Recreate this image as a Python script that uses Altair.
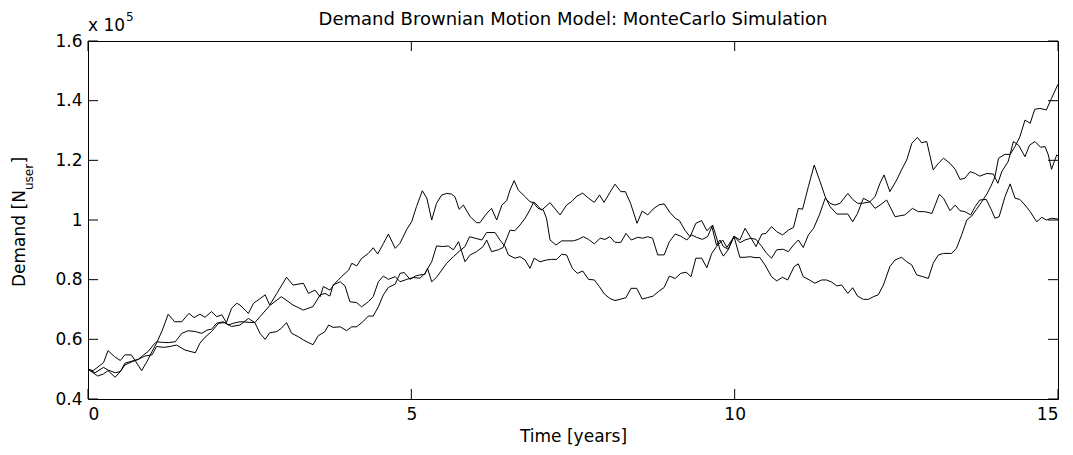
import altair as alt
import pandas as pd

# Demand in units of 1e5 users, time in years
t_a = [0.00, 0.08, 0.24, 0.31, 0.41, 0.50, 0.57, 0.67, 0.74, 0.83, 0.91, 0.99, 1.06, 1.15, 1.24, 1.34, 1.45, 1.56, 1.64, 1.73,
       1.81, 1.91, 1.99, 2.07, 2.14, 2.22, 2.30, 2.35, 2.43, 2.48, 2.56, 2.74, 2.81, 2.92, 3.07, 3.17, 3.33, 3.41, 3.51, 3.59,
       3.64, 3.74, 3.82, 3.92, 4.03, 4.08, 4.155, 4.23, 4.335, 4.41, 4.48, 4.57, 4.645, 4.75, 4.825, 4.93, 5.005, 5.08, 5.17, 5.24,
       5.315, 5.39, 5.47, 5.55, 5.62, 5.675, 5.74, 5.805, 5.91, 6.01, 6.06, 6.165, 6.24, 6.32, 6.40, 6.475, 6.525, 6.59, 6.655, 6.76,
       6.835, 6.91, 7.015, 7.145, 7.30, 7.40, 7.48, 7.56, 7.65, 7.74, 7.83, 7.91, 7.98, 8.07, 8.15, 8.24, 8.31, 8.39, 8.49, 8.57,
       8.655, 8.74, 8.83, 8.91, 9.00, 9.08, 9.145, 9.23, 9.31, 9.40, 9.49, 9.57, 9.645, 9.72, 9.773, 9.825, 9.90, 9.99, 10.08, 10.16,
       10.24, 10.33, 10.42, 10.485, 10.57, 10.65, 10.74, 10.83, 10.91, 10.985, 11.05, 11.14, 11.23, 11.32, 11.40, 11.475, 11.58, 11.67, 11.75, 11.825,
       11.90, 11.99, 12.09, 12.17, 12.247, 12.31, 12.40, 12.505, 12.58, 12.66, 12.74, 12.825, 12.89, 12.97, 13.07, 13.15, 13.23, 13.33, 13.41, 13.485,
       13.56, 13.64, 13.72, 13.79, 13.90, 14.00, 14.07, 14.13, 14.23, 14.31, 14.39, 14.49, 14.56, 14.644, 14.73, 14.80, 14.85, 14.90, 14.98, 15.00]
v_a = [0.500, 0.495, 0.522, 0.562, 0.542, 0.529, 0.548, 0.548, 0.525, 0.495, 0.525, 0.559, 0.587, 0.631, 0.684, 0.659, 0.659, 0.687, 0.673, 0.684,
       0.674, 0.693, 0.676, 0.682, 0.656, 0.704, 0.721, 0.715, 0.698, 0.687, 0.721, 0.749, 0.715, 0.754, 0.808, 0.782, 0.788, 0.754, 0.765, 0.743,
       0.777, 0.765, 0.788, 0.810, 0.832, 0.855, 0.846, 0.871, 0.888, 0.907, 0.886, 0.922, 0.953, 0.905, 0.922, 0.969, 0.994, 1.045, 1.098, 1.073,
       1.000, 1.056, 1.084, 1.089, 1.087, 1.078, 1.036, 1.050, 1.011, 0.991, 0.991, 1.022, 1.039, 1.000, 1.050, 1.065, 1.100, 1.132, 1.100, 1.078,
       1.061, 1.058, 1.033, 1.058, 1.017, 1.050, 1.062, 1.080, 1.090, 1.073, 1.059, 1.084, 1.059, 1.092, 1.120, 1.095, 1.095, 1.056, 0.989, 1.030,
       1.017, 1.037, 1.051, 1.054, 1.025, 1.006, 0.998, 0.966, 0.944, 0.989, 0.998, 0.964, 0.980, 0.915, 0.933, 0.911, 0.902, 0.946, 0.933, 0.972,
       0.944, 0.911, 0.953, 0.955, 0.978, 0.961, 0.950, 0.966, 0.975, 1.039, 1.036, 1.112, 1.184, 1.129, 1.078, 1.045, 1.020, 1.020, 1.020, 0.994,
       1.022, 1.073, 1.061, 1.078, 1.123, 1.151, 1.095, 1.134, 1.168, 1.201, 1.257, 1.277, 1.259, 1.263, 1.168, 1.190, 1.207, 1.190, 1.170, 1.136,
       1.140, 1.162, 1.156, 1.147, 1.156, 1.154, 1.123, 1.162, 1.196, 1.263, 1.251, 1.212, 1.251, 1.263, 1.244, 1.246, 1.218, 1.170, 1.218, 1.215]

t_b = [0.00, 0.15, 0.24, 0.31, 0.42, 0.50, 0.57, 0.68, 0.78, 0.86, 0.93, 1.01, 1.06, 1.14, 1.24, 1.35, 1.45, 1.55, 1.66, 1.76,
       1.84, 1.91, 1.99, 2.09, 2.17, 2.25, 2.35, 2.58, 2.66, 2.81, 2.99, 3.17, 3.33, 3.48, 3.59, 3.665, 3.74, 3.79, 3.90, 3.975,
       4.05, 4.155, 4.23, 4.335, 4.41, 4.49, 4.567, 4.645, 4.75, 4.825, 4.93, 5.03, 5.134, 5.21, 5.315, 5.39, 5.485, 5.57, 5.65, 5.73,
       5.83, 5.91, 6.01, 6.11, 6.165, 6.24, 6.345, 6.42, 6.526, 6.60, 6.68, 6.76, 6.835, 6.886, 6.96, 7.04, 7.09, 7.145, 7.237, 7.325,
       7.40, 7.505, 7.58, 7.66, 7.74, 7.83, 7.92, 7.995, 8.07, 8.15, 8.24, 8.32, 8.40, 8.50, 8.58, 8.655, 8.73, 8.81, 8.91, 8.99,
       9.08, 9.165, 9.26, 9.335, 9.41, 9.50, 9.58, 9.66, 9.73, 9.773, 9.825, 9.90, 9.99, 10.08, 10.16, 10.247, 10.33, 10.42, 10.495, 10.57,
       10.65, 10.75, 10.83, 10.91, 10.985, 11.06, 11.14, 11.22, 11.31, 11.40, 11.475, 11.55, 11.63, 11.75, 11.825, 11.90, 11.98, 12.09, 12.17, 12.247,
       12.35, 12.48, 12.63, 12.75, 12.84, 12.94, 13.05, 13.165, 13.23, 13.33, 13.41, 13.485, 13.56, 13.65, 13.72, 13.79, 13.89, 13.97, 14.025, 14.09,
       14.18, 14.26, 14.335, 14.41, 14.49, 14.57, 14.67, 14.75, 14.82, 14.90, 15.00]
v_b = [0.500, 0.477, 0.484, 0.495, 0.473, 0.492, 0.520, 0.527, 0.533, 0.548, 0.559, 0.581, 0.592, 0.590, 0.589, 0.592, 0.620, 0.629, 0.626, 0.620,
       0.631, 0.634, 0.654, 0.659, 0.648, 0.654, 0.659, 0.656, 0.676, 0.713, 0.743, 0.715, 0.698, 0.710, 0.749, 0.754, 0.745, 0.782, 0.793, 0.779,
       0.726, 0.723, 0.709, 0.726, 0.743, 0.793, 0.812, 0.801, 0.810, 0.793, 0.801, 0.807, 0.805, 0.821, 0.860, 0.913, 0.911, 0.913, 0.900, 0.927,
       0.860, 0.883, 0.894, 0.911, 0.933, 0.894, 0.900, 0.908, 0.966, 0.964, 0.983, 1.006, 1.034, 1.058, 1.039, 1.034, 1.006, 0.933, 0.916, 0.930,
       0.930, 0.930, 0.935, 0.944, 0.935, 0.920, 0.939, 0.935, 0.944, 0.925, 0.925, 0.955, 0.933, 0.942, 0.939, 0.944, 0.939, 0.883, 0.883, 0.927,
       0.953, 0.946, 0.933, 0.950, 0.942, 0.935, 0.944, 0.983, 0.933, 0.900, 0.879, 0.900, 0.946, 0.924, 0.933, 0.939, 0.935, 0.911, 0.888, 0.872,
       0.900, 0.902, 0.894, 0.916, 0.933, 0.908, 0.950, 0.972, 1.017, 1.073, 1.056, 1.050, 1.056, 1.089, 1.069, 1.056, 1.056, 1.061, 1.039, 1.050,
       1.067, 1.011, 1.017, 1.039, 1.028, 1.028, 1.022, 1.086, 1.073, 1.031, 1.050, 1.031, 1.028, 1.017, 1.045, 1.067, 1.069, 1.034, 1.006, 1.011,
       1.078, 1.121, 1.073, 1.069, 1.050, 1.028, 0.994, 1.009, 1.000, 1.006, 1.003]

t_c = [0.00, 0.11, 0.24, 0.31, 0.42, 0.50, 0.57, 0.68, 0.78, 0.88, 0.99, 1.06, 1.17, 1.27, 1.37, 1.50, 1.66, 1.73, 1.81, 1.91,
       2.02, 2.12, 2.22, 2.35, 2.48, 2.58, 2.66, 2.74, 2.81, 2.92, 2.99, 3.07, 3.15, 3.25, 3.33, 3.42, 3.48, 3.56, 3.665, 3.72,
       3.79, 3.90, 4.00, 4.077, 4.155, 4.26, 4.335, 4.41, 4.49, 4.567, 4.645, 4.75, 4.825, 4.89, 4.98, 5.06, 5.134, 5.21, 5.25, 5.315,
       5.39, 5.47, 5.547, 5.65, 5.75, 5.83, 5.90, 5.985, 6.09, 6.165, 6.294, 6.37, 6.45, 6.50, 6.60, 6.68, 6.76, 6.835, 6.90, 6.99,
       7.09, 7.17, 7.25, 7.325, 7.40, 7.49, 7.567, 7.65, 7.74, 7.83, 7.907, 7.985, 8.07, 8.15, 8.227, 8.32, 8.397, 8.485, 8.57, 8.655,
       8.74, 8.82, 8.91, 8.99, 9.08, 9.165, 9.25, 9.325, 9.40, 9.49, 9.57, 9.645, 9.72, 9.815, 9.88, 9.99, 10.08, 10.16, 10.24, 10.315,
       10.39, 10.47, 10.57, 10.65, 10.74, 10.82, 10.92, 10.985, 11.06, 11.155, 11.24, 11.345, 11.42, 11.50, 11.58, 11.655, 11.75, 11.825, 11.90, 11.99,
       12.07, 12.145, 12.22, 12.30, 12.40, 12.48, 12.58, 12.66, 12.74, 12.815, 12.91, 12.995, 13.07, 13.15, 13.23, 13.355, 13.43, 13.51, 13.59, 13.665,
       13.74, 13.82, 13.90, 13.97, 14.025, 14.08, 14.18, 14.26, 14.335, 14.41, 14.49, 14.57, 14.64, 14.72, 14.82, 14.90, 15.00]
v_c = [0.500, 0.488, 0.506, 0.497, 0.488, 0.492, 0.514, 0.525, 0.533, 0.544, 0.548, 0.576, 0.573, 0.576, 0.581, 0.564, 0.555, 0.587, 0.607, 0.626,
       0.654, 0.656, 0.643, 0.648, 0.670, 0.656, 0.620, 0.600, 0.622, 0.626, 0.637, 0.656, 0.620, 0.609, 0.598, 0.588, 0.582, 0.612, 0.626, 0.648,
       0.640, 0.642, 0.629, 0.642, 0.642, 0.661, 0.678, 0.678, 0.709, 0.749, 0.774, 0.785, 0.821, 0.824, 0.801, 0.812, 0.816, 0.818, 0.838, 0.793,
       0.808, 0.832, 0.855, 0.877, 0.897, 0.911, 0.944, 0.939, 0.933, 0.958, 0.958, 0.933, 0.911, 0.883, 0.872, 0.877, 0.866, 0.838, 0.872, 0.860,
       0.866, 0.868, 0.868, 0.885, 0.883, 0.838, 0.821, 0.829, 0.801, 0.799, 0.777, 0.752, 0.737, 0.730, 0.734, 0.740, 0.771, 0.771, 0.735, 0.740,
       0.745, 0.760, 0.774, 0.812, 0.804, 0.821, 0.825, 0.810, 0.872, 0.872, 0.840, 0.888, 0.911, 0.933, 0.908, 0.944, 0.875, 0.875, 0.877, 0.874,
       0.874, 0.849, 0.810, 0.796, 0.808, 0.799, 0.844, 0.853, 0.810, 0.799, 0.788, 0.799, 0.799, 0.792, 0.779, 0.782, 0.754, 0.773, 0.745, 0.734,
       0.734, 0.743, 0.749, 0.782, 0.844, 0.866, 0.875, 0.860, 0.849, 0.816, 0.810, 0.804, 0.855, 0.883, 0.888, 0.888, 0.905, 0.950, 1.000, 1.013,
       1.036, 1.061, 1.087, 1.117, 1.145, 1.207, 1.220, 1.220, 1.246, 1.279, 1.335, 1.324, 1.371, 1.374, 1.369, 1.408, 1.455]

x_ticks = [0, 5, 10, 15]
y_ticks = [0.4, 0.6, 0.8, 1.0, 1.2, 1.4, 1.6]

title_text = "Demand Brownian Motion Model: MonteCarlo Simulation"
x_title = "Time [years]"
y_title_parts = ["Demand [N", "user", "]"]
exp_parts = ["x 10", "5"]

FONT = "DejaVu Sans"
W, H = 970, 358

df = pd.DataFrame({
    "t": t_a + t_b + t_c,
    "v": v_a + v_b + v_c,
    "run": ["1"] * len(t_a) + ["2"] * len(t_b) + ["3"] * len(t_c),
})

xs = alt.Scale(domain=[0, 15], nice=False, zero=False)
ys = alt.Scale(domain=[0.4, 1.6], nice=False, zero=False)
x_axis = alt.Axis(values=x_ticks, title=x_title, labelPadding=7, titlePadding=6, format="~g")
y_axis = alt.Axis(values=y_ticks, title=None, labelPadding=6, format="~g")

lines = alt.Chart(df).mark_line(color="black", strokeWidth=1).encode(
    x=alt.X("t:Q", scale=xs, axis=x_axis),
    y=alt.Y("v:Q", scale=ys, axis=y_axis),
    detail="run:N",
)

xt = pd.DataFrame({"t": x_ticks})
yt = pd.DataFrame({"v": y_ticks})
tick_x = alt.X("t:Q", scale=xs, axis=x_axis)
tick_y = alt.Y("v:Q", scale=ys, axis=y_axis)
bottom_ticks = alt.Chart(xt).mark_rule(color="black", strokeWidth=1).encode(x=tick_x, y=alt.value(H), y2=alt.value(H - 10))
top_ticks = alt.Chart(xt).mark_rule(color="black", strokeWidth=1).encode(x=tick_x, y=alt.value(0), y2=alt.value(10))
left_ticks = alt.Chart(yt).mark_rule(color="black", strokeWidth=1).encode(y=tick_y, x=alt.value(0), x2=alt.value(10))
right_ticks = alt.Chart(yt).mark_rule(color="black", strokeWidth=1).encode(y=tick_y, x=alt.value(W), x2=alt.value(W - 10))

# chart title (placed just above the plot frame)
title_mark = alt.Chart(pd.DataFrame({"s": [title_text]})).mark_text(
    font=FONT, fontSize=18, align="center", baseline="alphabetic", color="black"
).encode(text="s:N", x=alt.value(W / 2), y=alt.value(-16))

# y-axis title with subscript, rotated
ytitle_main = alt.Chart(pd.DataFrame({"s": [y_title_parts[0]]})).mark_text(
    font=FONT, fontSize=17, angle=270, align="left", baseline="alphabetic", color="black"
).encode(text="s:N", x=alt.value(-63), y=alt.value(246))
ytitle_sub = alt.Chart(pd.DataFrame({"s": [y_title_parts[1]]})).mark_text(
    font=FONT, fontSize=12, angle=270, align="left", baseline="alphabetic", color="black"
).encode(text="s:N", x=alt.value(-55), y=alt.value(149))
ytitle_end = alt.Chart(pd.DataFrame({"s": [y_title_parts[2]]})).mark_text(
    font=FONT, fontSize=17, angle=270, align="left", baseline="alphabetic", color="black"
).encode(text="s:N", x=alt.value(-63), y=alt.value(122.5))

exp_main = alt.Chart(pd.DataFrame({"s": [exp_parts[0]]})).mark_text(
    font=FONT, fontSize=17, align="left", baseline="alphabetic", color="black"
).encode(text="s:N", x=alt.value(0), y=alt.value(-10))
exp_sup = alt.Chart(pd.DataFrame({"s": [exp_parts[1]]})).mark_text(
    font=FONT, fontSize=12, align="left", baseline="alphabetic", color="black"
).encode(text="s:N", x=alt.value(38), y=alt.value(-20))

chart = alt.layer(
    lines, bottom_ticks, top_ticks, left_ticks, right_ticks, title_mark,
    ytitle_main, ytitle_sub, ytitle_end, exp_main, exp_sup,
).properties(
    width=W, height=H,
    autosize=alt.AutoSizeParams(type="none"),
    padding={"left": 80, "top": 33, "right": 7, "bottom": 48},
).configure_view(
    stroke="black", strokeWidth=1
).configure_axis(
    domain=False, ticks=False, grid=False,
    labelFont=FONT, labelFontSize=17, labelColor="black",
    titleFont=FONT, titleFontSize=17, titleFontWeight="normal", titleColor="black",
)

chart.save("out.html", embed_options={"renderer": "svg", "actions": False})
